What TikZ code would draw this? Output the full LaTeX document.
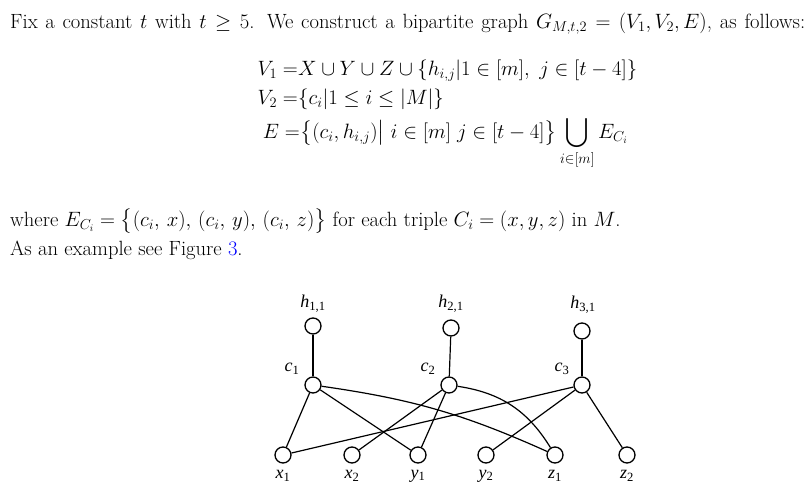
\documentclass[tikz,border=0pt]{standalone}
\usepackage{fontspec}
\usepackage{amsmath}
\usepackage{xcolor}
\newfontfamily\figfont{Liberation Serif}
\begin{document}
\begin{tikzpicture}[x=1pt,y=-1pt,
  vtx/.style={circle,draw,line width=1.3pt,minimum size=16pt,inner sep=0pt},
  edge/.style={line width=1.2pt},
  lbl/.style={inner sep=0pt,font=\figfont\fontsize{18}{20}\selectfont},
  txt/.style={anchor=base west,inner sep=0pt,font=\fontsize{20.6}{24}\selectfont},
  eql/.style={anchor=base east,inner sep=0pt,font=\fontsize{20}{24}\selectfont},
  eqr/.style={anchor=base west,inner sep=0pt,font=\fontsize{20}{24}\selectfont}]
\useasboundingbox (0,0) rectangle (812,493);
% text
\node[txt] (l1) at (10,28) {\makebox[795pt][s]{Fix a constant $t$ with $t\geq5$. We construct a bipartite graph $G_{M,t,2}=(V_1,V_2,E)$, as follows:}};
\node[eql] (e1l) at (298,75) {$V_1 =$};
\node[eqr] (e1r) at (298,75) {$X\cup Y\cup Z\cup\{h_{i,j}|1\in[m],\ j\in[t-4]\}$};
\node[eql] (e2l) at (298,104) {$V_2 =$};
\node[eqr] (e2r) at (298,104) {$\{c_i|1\leq i\leq|M|\}$};
\node[eql] (e3l) at (300,138) {$E =$};
\node[eqr] (e3r) at (300,138) {$\displaystyle\big\{(c_i,h_{i,j})\big|\ i\in[m]\ j\in[t-4]\big\}\bigcup_{i\in[m]}E_{C_i}$};
\node[txt] (l2) at (10,226) {where $E_{C_i}=\big\{(c_i,\,x),\,(c_i,\,y),\,(c_i,\,z)\big\}$ for each triple $C_i=(x,y,z)$ in $M$.};
\node[txt] (l3) at (10,255) {As an example see Figure \textcolor{blue}{3}.};
% graph
\node[vtx] (h1) at (313,326) {};
\node[vtx] (h2) at (451,328) {};
\node[vtx] (h3) at (582,331) {};
\node[vtx] (c1) at (313,385) {};
\node[vtx] (c2) at (449,385) {};
\node[vtx] (c3) at (582,385) {};
\node[vtx] (x1) at (283,455) {};
\node[vtx] (x2) at (352,455) {};
\node[vtx] (y1) at (418,455) {};
\node[vtx] (y2) at (486,455) {};
\node[vtx] (z1) at (555,455) {};
\node[vtx] (z2) at (627,455) {};
\node[lbl] (lh1) at (313,304) {\itshape h\upshape\textsubscript{1,1}};
\node[lbl] (lh2) at (451,304) {\itshape h\upshape\textsubscript{2,1}};
\node[lbl] (lh3) at (583,305) {\itshape h\upshape\textsubscript{3,1}};
\node[lbl] (lc1) at (292,369) {\itshape c\upshape\textsubscript{1}};
\node[lbl] (lc2) at (428,369) {\itshape c\upshape\textsubscript{2}};
\node[lbl] (lc3) at (562,369) {\itshape c\upshape\textsubscript{3}};
\node[lbl] (lx1) at (283,476) {\itshape x\upshape\textsubscript{1}};
\node[lbl] (lx2) at (352,476) {\itshape x\upshape\textsubscript{2}};
\node[lbl] (ly1) at (418,476) {\itshape y\upshape\textsubscript{1}};
\node[lbl] (ly2) at (486,476) {\itshape y\upshape\textsubscript{2}};
\node[lbl] (lz1) at (555,476) {\itshape z\upshape\textsubscript{1}};
\node[lbl] (lz2) at (627,476) {\itshape z\upshape\textsubscript{2}};
\draw[edge] (h1) -- (c1);
\draw[edge] (h2) -- (c2);
\draw[edge] (h3) -- (c3);
\draw[edge] (c1) -- (x1);
\draw[edge] (c1) -- (y1);
\draw[edge] (c1) to[bend left=8] (z1);
\draw[edge] (c2) -- (x2);
\draw[edge] (c2) -- (y1);
\draw[edge] (c2) to[bend left=25] (z1);
\draw[edge] (c3) -- (x1);
\draw[edge] (c3) -- (y2);
\draw[edge] (c3) -- (z2);
\end{tikzpicture}
\end{document}
